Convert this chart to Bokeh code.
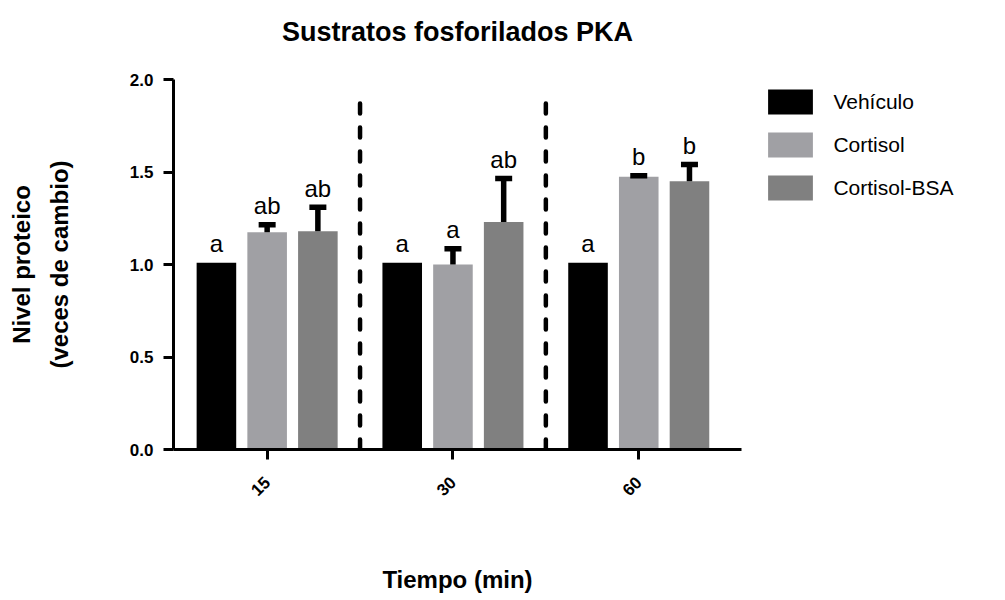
import math
from bokeh.plotting import figure
from bokeh.layouts import row
from bokeh.models import (Range1d, FixedTicker, Legend, LegendItem, ColumnDataSource,
                          PrintfTickFormatter, LinearAxis)
from bokeh.core.properties import value
from bokeh.embed import file_html
from bokeh.resources import INLINE

# ---- data ----
groups = ["15", "30", "60"]
series = ["Vehículo", "Cortisol", "Cortisol-BSA"]
vehiculo = [1.01, 1.01, 1.01]
vehiculo_err = [0.0, 0.0, 0.0]
cortisol = [1.175, 1.0, 1.475]
cortisol_err = [0.04, 0.085, 0.005]
bsa = [1.18, 1.23, 1.45]
bsa_err = [0.13, 0.235, 0.09]
letters_vehiculo = ["a", "a", "a"]
letters_cortisol = ["ab", "a", "b"]
letters_bsa = ["ab", "ab", "b"]
separators = [1.5, 2.5]
separator_top = 1.89
y_ticks = [0.0, 0.5, 1.0, 1.5, 2.0]

colors = ["#000000", "#A0A0A4", "#808080"]
FONT = "Liberation Sans"

H = 596
W1, W2 = 750, 250
LEFT, TOP, BOTTOM = 173, 79, 144
RIGHT = W1 - 741

p = figure(width=W1, height=H, output_backend="svg", toolbar_location=None,
           x_range=Range1d(0.496, 3.553), y_range=Range1d(0, 2.0),
           min_border_left=LEFT, min_border_right=RIGHT, min_border_top=TOP,
           min_border_bottom=BOTTOM)
p.outline_line_color = None
p.grid.visible = False
p.background_fill_color = "white"
p.border_fill_color = "white"

xs = [1, 2, 3]
offset = 0.273
bw = 0.213
vals = [vehiculo, cortisol, bsa]
errs = [vehiculo_err, cortisol_err, bsa_err]
lets = [letters_vehiculo, letters_cortisol, letters_bsa]

sources = []
for k in range(3):
    xk = [x + (k - 1) * offset for x in xs]
    top_err = [v + e for v, e in zip(vals[k], errs[k])]
    src = ColumnDataSource(dict(x=xk, top=vals[k], err_top=top_err, lab=lets[k]))
    sources.append(src)
    p.vbar(x="x", top="top", width=bw, source=src, fill_color=colors[k],
           line_color=None)
    if any(e > 0 for e in errs[k]):
        p.segment(x0="x", y0="top", x1="x", y1="err_top", source=src,
                  line_color="black", line_width=5.5)
        p.rect(x="x", y="err_top", width=17, height=5.5, width_units="screen",
               height_units="screen", source=src, fill_color="black", line_color=None)
    p.text(x="x", y="err_top", text="lab", source=src, text_align="center",
           text_baseline="alphabetic", y_offset=-19, text_font=value(FONT),
           text_font_size="24px", text_color="black")

# dashed separators
p.segment(x0=separators, y0=[0] * len(separators), x1=separators,
          y1=[separator_top] * len(separators), line_color="black",
          line_width=4.5, line_dash="10 14", line_cap="round")

# axes
for ax in (p.xaxis[0], p.yaxis[0]):
    ax.axis_line_width = 3
    ax.axis_line_color = "black"
    ax.major_tick_line_width = 3
    ax.major_tick_line_color = "black"
    ax.major_tick_out = 10
    ax.major_tick_in = 0
    ax.minor_tick_line_color = None
    ax.major_label_text_font = FONT
    ax.major_label_text_font_style = "bold"
    ax.major_label_text_font_size = "17px"
    ax.major_label_text_color = "black"
    ax.axis_label_text_font = FONT
    ax.axis_label_text_font_style = "bold"
    ax.axis_label_text_font_size = "24px"
    ax.axis_label_text_color = "black"

p.xaxis.ticker = FixedTicker(ticks=xs)
p.xaxis.major_label_overrides = {x: g for x, g in zip(xs, groups)}
p.xaxis.major_label_orientation = math.pi / 4
p.xaxis.major_label_standoff = 20
p.xaxis.axis_label = "Tiempo (min)"
p.xaxis.axis_label_standoff = 62

p.yaxis.ticker = FixedTicker(ticks=y_ticks)
p.yaxis.formatter = PrintfTickFormatter(format="%.1f")
p.yaxis.major_label_standoff = 10
p.yaxis.axis_label = "Nivel proteico\n(veces de cambio)"
p.yaxis.axis_label_text_line_height = 1.4
p.yaxis.axis_label_standoff = 54

# title, drawn as the label of a bare axis above the frame (centred on the frame)
title_axis = LinearAxis(ticker=FixedTicker(ticks=[]), axis_line_color=None,
                        major_tick_line_color=None, minor_tick_line_color=None,
                        major_label_text_font_size="0px",
                        axis_label="Sustratos fosforilados PKA",
                        axis_label_standoff=33, axis_label_text_font=FONT,
                        axis_label_text_font_style="bold",
                        axis_label_text_font_size="27px",
                        axis_label_text_color="black")
p.add_layout(title_axis, "above")

# legend in its own panel figure (its frame is aligned with the main frame);
# it reuses the bar sources, viewed through ranges where no bar falls
q = figure(width=W2, height=H, output_backend="svg", toolbar_location=None,
           x_range=Range1d(-100, -99), y_range=Range1d(-100, -99),
           min_border_left=0, min_border_right=0, min_border_top=0,
           min_border_bottom=0)
q.outline_line_color = None
q.axis.visible = False
q.grid.visible = False
legend_renderers = []
for k in range(3):
    legend_renderers.append(q.vbar(x="x", top="top", bottom=50, width=bw,
                                   source=sources[k], fill_color=colors[k],
                                   line_color=None))
items = [LegendItem(label=s, renderers=[r]) for s, r in zip(series, legend_renderers)]
legend = Legend(items=items, location=(12.4, 245.6), orientation="vertical",
                glyph_width=56, glyph_height=31, label_standoff=15, spacing=12,
                padding=0, margin=0, border_line_color=None,
                background_fill_alpha=0, label_text_font=FONT,
                label_text_font_size="21px", label_text_color="black",
                label_height=31)
q.add_layout(legend, "center")

layout = row(p, q, spacing=0)
open("out.html", "w").write(file_html(layout, INLINE))
